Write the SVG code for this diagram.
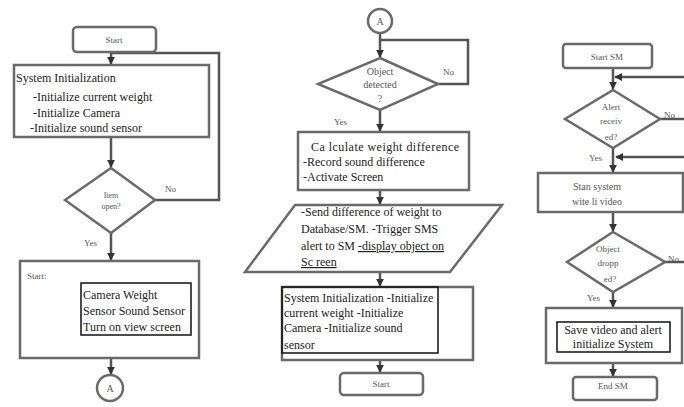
<svg xmlns="http://www.w3.org/2000/svg" width="684" height="407" viewBox="0 0 684 407">
<defs>
<marker id="ah" viewBox="0 0 10 10" refX="9" refY="5" markerWidth="8" markerHeight="8" markerUnits="userSpaceOnUse" orient="auto"><path d="M0,0 L10,5 L0,10 z" fill="#333"/></marker>
</defs>
<style>
.shape{fill:#fff;stroke:#6a6a6a;stroke-width:2.5}
.inner{fill:none;stroke:#111;stroke-width:1.5}
.conn{fill:none;stroke:#555;stroke-width:2.5}
.arr{marker-end:url(#ah)}
.t{font-family:"Liberation Serif","Times New Roman",serif;fill:#222;font-size:12px}
.s{font-family:"Liberation Serif","Times New Roman",serif;fill:#555;font-size:9px}
.m{text-anchor:middle}
.u{text-decoration:underline}
</style>
<rect width="684" height="407" fill="#fff"/>

<g id="connectors">
  <path class="conn arr" d="M111,52 V64"/>
  <path class="conn arr" d="M111,137 V167"/>
  <path class="conn arr" d="M111,233 V260"/>
  <path class="conn arr" d="M111,358 V374"/>
  <path class="conn" d="M155,200 H219 V53 H111"/>
  <path class="conn arr" d="M380,33 V57"/>
  <path class="conn" d="M438,84 H468 V40 H380"/>
  <path class="conn arr" d="M380,110 V131"/>
  <path class="conn arr" d="M380,190 V204"/>
  <path class="conn arr" d="M380,272 V286"/>
  <path class="conn arr" d="M380,360 V372"/>
  <path class="conn arr" d="M613,68 V89"/>
  <path class="conn arr" d="M684,77 H615"/>
  <path class="conn" d="M660,119 H684"/>
  <path class="conn arr" d="M684,157 H616"/>
  <path class="conn arr" d="M613,148 V172"/>
  <path class="conn arr" d="M613,212 V231"/>
  <path class="conn" d="M665,262 H684"/>
  <path class="conn arr" d="M613,292 V307"/>
  <path class="conn arr" d="M613,363 V376"/>
  <text class="s" x="165" y="192">No</text>
  <text class="s" x="84" y="246">Yes</text>
  <text class="s" x="443" y="75">No</text>
  <text class="s" x="334" y="125">Yes</text>
  <text class="s" x="664" y="118">No</text>
  <text class="s" x="589" y="161">Yes</text>
  <text class="s" x="668" y="262">No</text>
  <text class="s" x="587" y="301">Yes</text>
</g>

<g id="start1">
  <rect class="shape" x="73" y="27" width="83" height="25" rx="4"/>
  <text class="s m" x="114" y="43">Start</text>
</g>
<g id="init1">
  <rect class="shape" x="14" y="65" width="195" height="72"/>
  <text class="t" x="16" y="82">System Initialization</text>
  <text class="t" x="33" y="101">-Initialize current weight</text>
  <text class="t" x="33" y="117">-Initialize Camera</text>
  <text class="t" x="30" y="132">-Initialize sound sensor</text>
</g>
<g id="dec1">
  <polygon class="shape" points="111,168 155,200 111,233 65,200"/>
  <text class="s m" x="111" y="198" style="font-size:8px">Item</text>
  <text class="s m" x="111" y="209" style="font-size:8px">open?</text>
</g>
<g id="start2">
  <rect class="shape" x="20" y="261" width="179" height="97"/>
  <text class="s" x="27" y="279">Start:</text>
  <rect class="inner" x="81" y="283" width="110" height="52"/>
  <text class="t" x="83" y="299">Camera Weight</text>
  <text class="t" x="83" y="315">Sensor Sound Sensor</text>
  <text class="t" x="83" y="331">Turn on view screen</text>
</g>
<g id="connA1">
  <circle class="shape" cx="110" cy="388" r="13"/>
  <text class="s m" x="110" y="392" style="font-size:10px">A</text>
</g>

<g id="connA2">
  <circle class="shape" cx="380" cy="21" r="12"/>
  <text class="s m" x="380" y="25" style="font-size:10px">A</text>
</g>
<g id="dec2">
  <polygon class="shape" points="380,58 438,84 380,110 318,84"/>
  <text class="s m" x="380" y="75" style="font-size:10px">Object</text>
  <text class="s m" x="380" y="88" style="font-size:10px">detected</text>
  <text class="s m" x="380" y="102" style="font-size:10px">?</text>
</g>
<g id="calc">
  <rect class="shape" x="298" y="132" width="171" height="58"/>
  <text class="t" x="311" y="151" textLength="148" lengthAdjust="spacing">Ca lculate weight difference</text>
  <text class="t" x="303" y="166">-Record sound difference</text>
  <text class="t" x="303" y="181">-Activate Screen</text>
</g>
<g id="send">
  <polygon class="shape" points="295,205 502,205 450,272 245,272"/>
  <text class="t" x="301" y="216">-Send difference of weight to</text>
  <text class="t" x="301" y="233">Database/SM. -Trigger SMS</text>
  <text class="t" x="301" y="250">alert to SM <tspan class="u">-display object on</tspan></text>
  <text class="t u" x="301" y="266">Sc reen</text>
</g>
<g id="init2">
  <rect class="shape" x="282" y="287" width="191" height="73"/>
  <rect class="inner" x="282" y="287" width="156" height="66"/>
  <text class="t" x="284" y="302">System Initialization -Initialize</text>
  <text class="t" x="284" y="317">current weight -Initialize</text>
  <text class="t" x="284" y="332">Camera -Initialize sound</text>
  <text class="t" x="284" y="349">sensor</text>
</g>
<g id="start3">
  <rect class="shape" x="340" y="373" width="83" height="22" rx="4"/>
  <text class="s m" x="381" y="387">Start</text>
</g>

<g id="startSM">
  <rect class="shape" x="563" y="44" width="89" height="24" rx="3"/>
  <text class="s m" x="607" y="60">Start SM</text>
</g>
<g id="dec3">
  <polygon class="shape" points="613,90 660,119 613,148 565,119"/>
  <text class="s m" x="611" y="110">Alert</text>
  <text class="s m" x="611" y="124">receiv</text>
  <text class="s m" x="611" y="140">ed?</text>
</g>
<g id="video">
  <rect class="shape" x="538" y="173" width="145" height="39"/>
  <text class="s m" x="597" y="190" style="font-size:10px">Stan system</text>
  <text class="s m" x="597" y="205" style="font-size:10px">wite li video</text>
</g>
<g id="dec4">
  <polygon class="shape" points="613,232 665,262 613,292 567,262"/>
  <text class="s m" x="608" y="252">Object</text>
  <text class="s m" x="608" y="266">dropp</text>
  <text class="s m" x="610" y="282">ed?</text>
</g>
<g id="save">
  <rect class="shape" x="546" y="308" width="136" height="55"/>
  <rect class="inner" x="557" y="322" width="113" height="30"/>
  <text class="t m" x="613" y="334">Save video and alert</text>
  <text class="t m" x="613" y="348">initialize System</text>
</g>
<g id="endSM">
  <rect class="shape" x="573" y="377" width="84" height="23" rx="3"/>
  <text class="s m" x="613" y="389">End SM</text>
</g>
</svg>
